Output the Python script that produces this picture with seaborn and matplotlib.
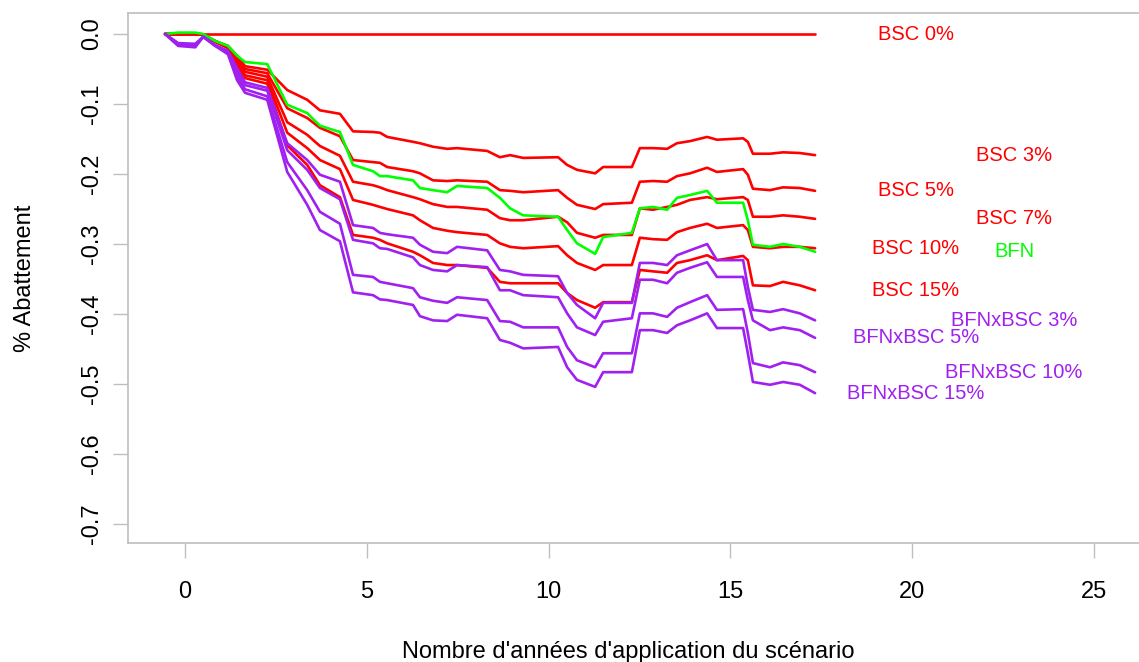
import pandas as pd
import matplotlib
matplotlib.use('Agg')
import matplotlib.pyplot as plt
import seaborn as sns

# years since the scenario started (shared by every series except BSC 0%)
years = [-0.55, -0.19, 0.28, 0.50, 0.83, 1.18, 1.43, 1.65, 2.26, 2.81,
         3.36, 3.71, 4.26, 4.62, 5.17, 5.36, 5.56, 6.27, 6.46, 6.82,
         7.21, 7.48, 8.31, 8.66, 8.94, 9.30, 10.26, 10.51, 10.78, 11.28,
         11.50, 12.29, 12.51, 12.87, 13.26, 13.53, 13.89, 14.36, 14.63, 15.35,
         15.48, 15.62, 16.09, 16.45, 16.91, 17.33]

bsc0_years = [-0.55, 17.33]
bsc0 = [0.0, 0.0]

bsc3 = [0, 0.001, 0.001, -0.001, -0.010, -0.017, -0.031, -0.046, -0.051, -0.080,
        -0.094, -0.109, -0.114, -0.139, -0.140, -0.141, -0.147, -0.154, -0.156, -0.161,
        -0.164, -0.163, -0.167, -0.176, -0.173, -0.177, -0.176, -0.187, -0.194, -0.199,
        -0.190, -0.190, -0.163, -0.163, -0.164, -0.156, -0.153, -0.147, -0.151, -0.149,
        -0.154, -0.171, -0.171, -0.169, -0.170, -0.173]
bsc5 = [0, 0, 0, -0.001, -0.010, -0.019, -0.034, -0.050, -0.056, -0.106,
        -0.120, -0.134, -0.146, -0.180, -0.183, -0.184, -0.190, -0.196, -0.199, -0.209,
        -0.210, -0.209, -0.211, -0.223, -0.224, -0.226, -0.223, -0.234, -0.244, -0.250,
        -0.243, -0.241, -0.211, -0.210, -0.211, -0.203, -0.199, -0.191, -0.197, -0.193,
        -0.201, -0.221, -0.223, -0.219, -0.220, -0.224]
bsc7 = [0, 0, 0, -0.001, -0.011, -0.019, -0.037, -0.054, -0.061, -0.126,
        -0.144, -0.160, -0.174, -0.211, -0.216, -0.219, -0.223, -0.233, -0.236, -0.243,
        -0.247, -0.247, -0.251, -0.263, -0.266, -0.266, -0.261, -0.269, -0.284, -0.291,
        -0.287, -0.287, -0.249, -0.251, -0.247, -0.244, -0.237, -0.233, -0.236, -0.233,
        -0.237, -0.261, -0.261, -0.259, -0.261, -0.264]
bsc10 = [0, 0, 0, -0.001, -0.011, -0.020, -0.040, -0.059, -0.066, -0.141,
         -0.163, -0.180, -0.193, -0.237, -0.244, -0.247, -0.250, -0.259, -0.266, -0.277,
         -0.281, -0.283, -0.287, -0.299, -0.304, -0.306, -0.303, -0.316, -0.327, -0.337,
         -0.330, -0.330, -0.291, -0.293, -0.294, -0.283, -0.277, -0.271, -0.277, -0.273,
         -0.280, -0.304, -0.306, -0.304, -0.304, -0.306]
bsc15 = [0, 0, 0, -0.001, -0.011, -0.020, -0.043, -0.063, -0.071, -0.159,
         -0.187, -0.216, -0.233, -0.287, -0.291, -0.294, -0.299, -0.311, -0.316, -0.327,
         -0.330, -0.330, -0.334, -0.354, -0.356, -0.356, -0.356, -0.370, -0.380, -0.391,
         -0.383, -0.383, -0.337, -0.339, -0.341, -0.327, -0.323, -0.316, -0.323, -0.317,
         -0.323, -0.359, -0.360, -0.354, -0.359, -0.366]
bfn = [0, 0.002, 0.002, 0, -0.010, -0.017, -0.031, -0.040, -0.043, -0.101,
       -0.113, -0.131, -0.140, -0.187, -0.196, -0.203, -0.203, -0.209, -0.220, -0.223,
       -0.226, -0.217, -0.220, -0.234, -0.249, -0.259, -0.261, -0.280, -0.299, -0.314,
       -0.290, -0.284, -0.249, -0.247, -0.251, -0.234, -0.230, -0.224, -0.241, -0.241,
       -0.266, -0.301, -0.304, -0.300, -0.304, -0.311]
bfn_bsc3 = [0, -0.013, -0.014, -0.004, -0.016, -0.024, -0.049, -0.069, -0.077, -0.156,
            -0.180, -0.201, -0.211, -0.273, -0.277, -0.284, -0.286, -0.291, -0.301, -0.311,
            -0.313, -0.304, -0.309, -0.337, -0.339, -0.344, -0.346, -0.370, -0.387, -0.406,
            -0.384, -0.384, -0.327, -0.327, -0.330, -0.316, -0.309, -0.300, -0.323, -0.323,
            -0.361, -0.394, -0.397, -0.393, -0.399, -0.409]
bfn_bsc5 = [0, -0.014, -0.016, -0.004, -0.016, -0.026, -0.054, -0.073, -0.081, -0.166,
            -0.194, -0.220, -0.236, -0.294, -0.299, -0.306, -0.307, -0.319, -0.330, -0.337,
            -0.339, -0.330, -0.333, -0.366, -0.366, -0.373, -0.376, -0.399, -0.419, -0.430,
            -0.411, -0.406, -0.351, -0.351, -0.356, -0.341, -0.334, -0.326, -0.347, -0.347,
            -0.380, -0.409, -0.423, -0.419, -0.423, -0.434]
bfn_bsc10 = [0, -0.016, -0.017, -0.004, -0.017, -0.027, -0.060, -0.079, -0.089, -0.183,
             -0.223, -0.254, -0.271, -0.344, -0.347, -0.354, -0.356, -0.363, -0.376, -0.381,
             -0.384, -0.376, -0.380, -0.410, -0.411, -0.419, -0.419, -0.447, -0.466, -0.476,
             -0.456, -0.456, -0.399, -0.399, -0.404, -0.391, -0.383, -0.373, -0.394, -0.393,
             -0.427, -0.470, -0.476, -0.469, -0.473, -0.483]
bfn_bsc15 = [0, -0.017, -0.019, -0.004, -0.017, -0.029, -0.066, -0.084, -0.094, -0.197,
             -0.244, -0.280, -0.296, -0.369, -0.373, -0.379, -0.380, -0.387, -0.403, -0.409,
             -0.410, -0.401, -0.406, -0.437, -0.441, -0.449, -0.447, -0.476, -0.494, -0.504,
             -0.483, -0.483, -0.423, -0.423, -0.427, -0.416, -0.409, -0.399, -0.420, -0.420,
             -0.456, -0.497, -0.501, -0.497, -0.501, -0.513]

series = [
    ('BSC 0%', bsc0_years, bsc0),
    ('BSC 3%', years, bsc3),
    ('BSC 5%', years, bsc5),
    ('BSC 7%', years, bsc7),
    ('BSC 10%', years, bsc10),
    ('BSC 15%', years, bsc15),
    ('BFN', years, bfn),
    ('BFNxBSC 3%', years, bfn_bsc3),
    ('BFNxBSC 5%', years, bfn_bsc5),
    ('BFNxBSC 10%', years, bfn_bsc10),
    ('BFNxBSC 15%', years, bfn_bsc15),
]

RED, GREEN, PURPLE = '#FF0000', '#00FF00', '#A020F0'
colors = {name: (GREEN if name == 'BFN' else PURPLE if name.startswith('BFNx') else RED)
          for name, _, _ in series}
# labels alternate between two columns on the right
label_x = {'BSC 0%': 20.1, 'BSC 3%': 22.8, 'BSC 5%': 20.1, 'BSC 7%': 22.8,
           'BSC 10%': 20.1, 'BFN': 22.8, 'BSC 15%': 20.1, 'BFNxBSC 3%': 22.8,
           'BFNxBSC 5%': 20.1, 'BFNxBSC 10%': 22.8, 'BFNxBSC 15%': 20.1}

df = pd.concat([pd.DataFrame({'annee': xs, 'abattement': ys, 'scenario': name})
                for name, xs, ys in series], ignore_index=True)

sns.set_style('white')
plt.rcParams['font.family'] = ['Liberation Sans', 'DejaVu Sans']
plt.rcParams['axes.unicode_minus'] = False
plt.rcParams['text.color'] = 'black'
plt.rcParams['axes.labelcolor'] = 'black'

fig = plt.figure(figsize=(11.39, 6.62), dpi=100)
ax = fig.add_axes([128 / 1139, 1 - 543 / 662, 1 - 128 / 1139, (543 - 13) / 662])

sns.lineplot(data=df, x='annee', y='abattement', hue='scenario',
             hue_order=[s[0] for s in series], palette=colors,
             sort=False, estimator=None, legend=False, linewidth=1.9, ax=ax)

for name, xs, ys in series:
    ax.text(label_x[name], ys[-1], name, color=colors[name], fontsize=14.5,
            ha='center', va='center')

ax.set_xlim(-1.57, 26.24)
ax.set_ylim(-0.727, 0.03)
ax.set_xticks([0, 5, 10, 15, 20, 25])
ax.set_yticks([0.0, -0.1, -0.2, -0.3, -0.4, -0.5, -0.6, -0.7])
ax.set_yticklabels(['0.0', '-0.1', '-0.2', '-0.3', '-0.4', '-0.5', '-0.6', '-0.7'],
                   rotation=90, va='center')

frame_col = '#BEBEBE'
for side in ['left', 'bottom', 'top']:
    ax.spines[side].set_color(frame_col)
    ax.spines[side].set_linewidth(1.2)
ax.spines['right'].set_visible(False)

ax.tick_params(axis='x', length=11, width=1, color=frame_col, pad=16,
               labelsize=17, labelcolor='black', bottom=True)
ax.tick_params(axis='y', length=11, width=1, color=frame_col, pad=7,
               labelsize=17, labelcolor='black', left=True)

ax.set_xlabel("Nombre d'années d'application du scénario", fontsize=17, color='black')
ax.set_ylabel('% Abattement', fontsize=17, color='black')
ax.xaxis.set_label_coords(0.4946, -0.2057)
ax.xaxis.label.set_va('center')
ax.yaxis.set_label_coords(-0.102, 0.5)
ax.yaxis.label.set_va('center')

fig.savefig('out.png', dpi=100)
